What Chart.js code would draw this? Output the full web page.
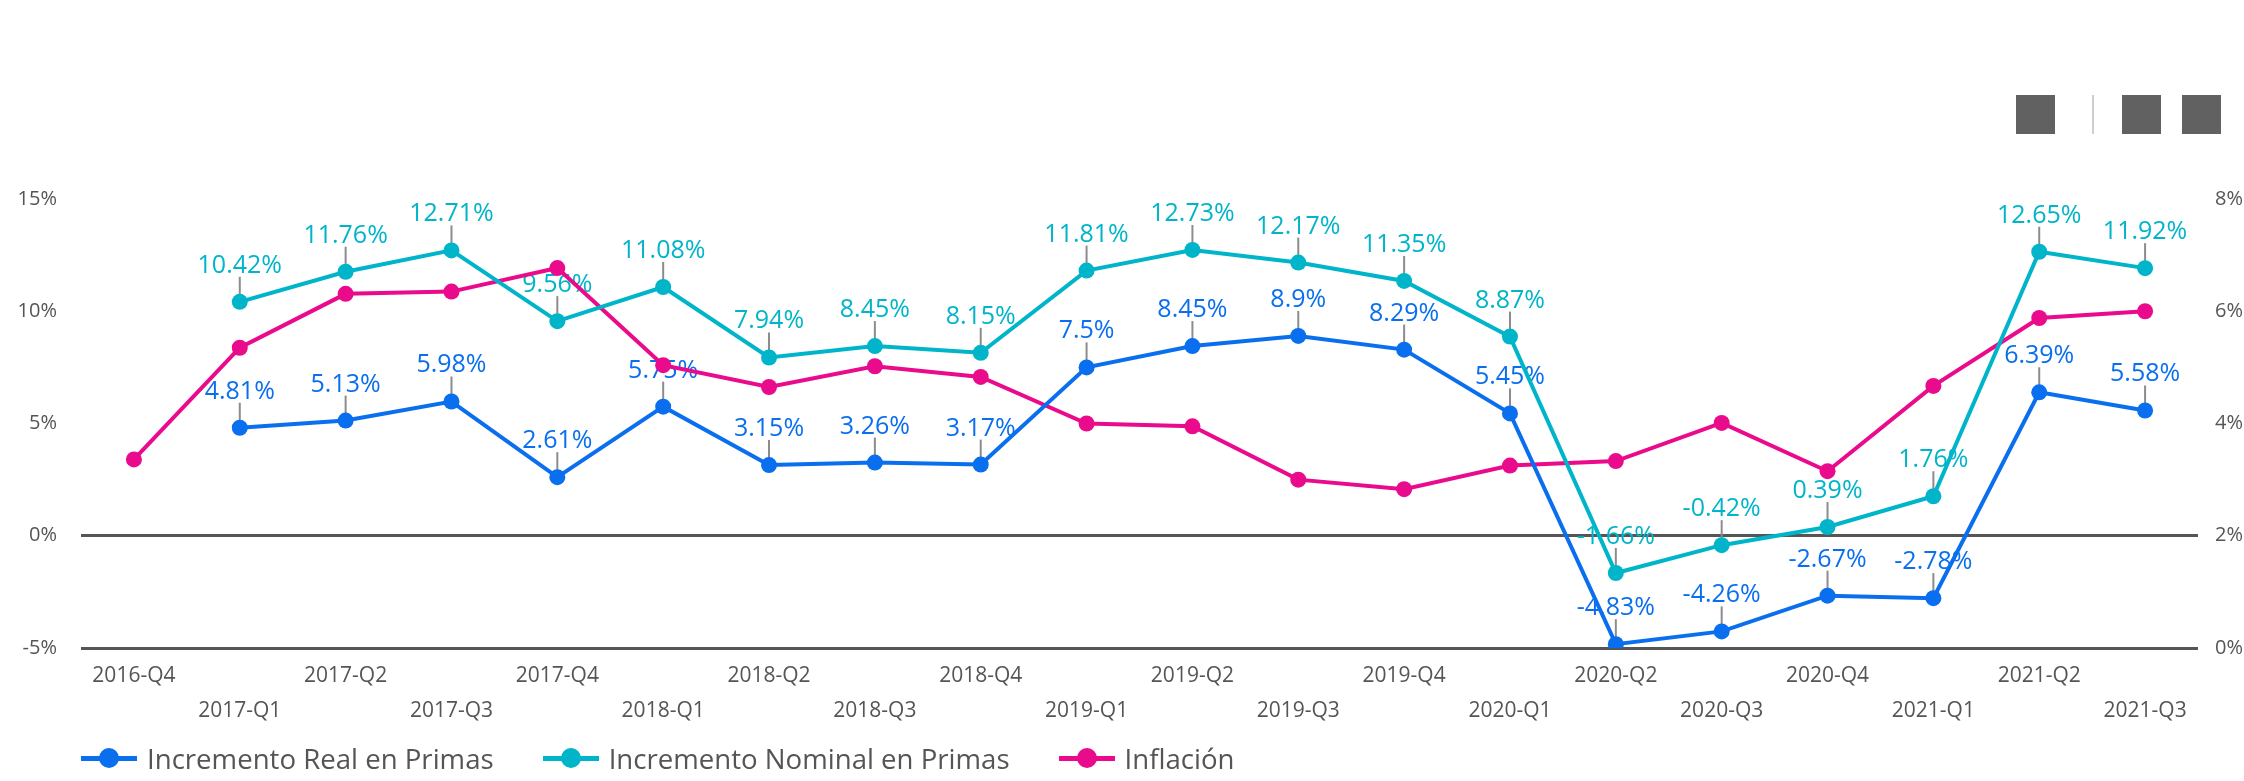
<!DOCTYPE html>
<html>
<head>
<meta charset="utf-8">
<script src="https://cdn.jsdelivr.net/npm/chart.js@4.4.0/dist/chart.umd.min.js"></script>
<style>
  html, body { margin: 0; padding: 0; background: #fff; }
  #wrap { position: relative; width: 2244px; height: 781px; overflow: hidden; }
  #chart { position: absolute; left: 0; top: 0; }
  .tool { position: absolute; top: 95px; width: 39px; height: 39px; background: #616161; }
  .sep { position: absolute; top: 95px; left: 2092px; width: 2px; height: 39px; background: #cfcfcf; }
  #legend { position: absolute; left: 81px; top: 738px; height: 40px; display: flex; align-items: center;
            font-family: 'Open Sans', sans-serif; font-size: 27.6px; color: #555555; }
  .item { display: flex; align-items: center; margin-right: 49px; }
  .mark { position: relative; width: 56px; height: 20px; margin-right: 10px; }
  .mark .ln { position: absolute; left: 0; right: 0; top: 8px; height: 5px; }
  .mark .dot { position: absolute; left: 18px; top: 0; width: 20px; height: 20px; border-radius: 50%; }
</style>
</head>
<body>
<div id="wrap">
  <canvas id="chart" width="2244" height="781"></canvas>
  <div class="tool" style="left:2016px"></div>
  <div class="sep"></div>
  <div class="tool" style="left:2122px"></div>
  <div class="tool" style="left:2182px"></div>
  <div id="legend"></div>
</div>
<script>
// Chart data
const categories = [
  '2016-Q4', '2017-Q1', '2017-Q2', '2017-Q3', '2017-Q4',
  '2018-Q1', '2018-Q2', '2018-Q3', '2018-Q4',
  '2019-Q1', '2019-Q2', '2019-Q3', '2019-Q4',
  '2020-Q1', '2020-Q2', '2020-Q3', '2020-Q4',
  '2021-Q1', '2021-Q2', '2021-Q3'
];
const realValues = [
  null, 4.81, 5.13, 5.98, 2.61,
  5.75, 3.15, 3.26, 3.17,
  7.5, 8.45, 8.9, 8.29,
  5.45, -4.83, -4.26, -2.67,
  -2.78, 6.39, 5.58
];
const nominalValues = [
  null, 10.42, 11.76, 12.71, 9.56,
  11.08, 7.94, 8.45, 8.15,
  11.81, 12.73, 12.17, 11.35,
  8.87, -1.66, -0.42, 0.39,
  1.76, 12.65, 11.92
];
const inflationValues = [
  3.36, 5.35, 6.31, 6.35, 6.77,
  5.04, 4.65, 5.02, 4.83,
  4.00, 3.95, 3.00, 2.83,
  3.25, 3.33, 4.01, 3.15,
  4.67, 5.88, 6.00
];
const leftTicks = [-5, 0, 5, 10, 15];
const rightTicks = [0, 2, 4, 6, 8];

const seriesNames = ['Incremento Real en Primas', 'Incremento Nominal en Primas', 'Inflación'];
const seriesColors = ['#0a6fee', '#00b5c9', '#ea0a8c'];

const FONT = "'Open Sans', sans-serif";
const TEXT_GRAY = '#555555';

// Labels with a small leader line above each point (first two series)
const pointLabels = {
  id: 'pointLabels',
  beforeDatasetsDraw(chart) {
    const ctx = chart.ctx;
    ctx.save();
    [0, 1].forEach(i => {
      const ds = chart.data.datasets[i];
      chart.getDatasetMeta(i).data.forEach((pt, j) => {
        const v = ds.data[j];
        if (v === null || v === undefined) return;
        ctx.strokeStyle = '#8c8c8c';
        ctx.lineWidth = 2;
        ctx.beginPath();
        ctx.moveTo(pt.x, pt.y);
        ctx.lineTo(pt.x, pt.y - 25);
        ctx.stroke();
        ctx.fillStyle = ds.borderColor;
        ctx.font = '25px ' + FONT;
        ctx.textAlign = 'center';
        ctx.textBaseline = 'alphabetic';
        ctx.fillText(v + '%', pt.x, pt.y - 29);
      });
    });
    ctx.restore();
  }
};

function makeDataset(label, data, color, axis) {
  return {
    label: label,
    data: data,
    yAxisID: axis,
    borderColor: color,
    backgroundColor: color,
    pointBackgroundColor: color,
    pointBorderColor: color,
    borderWidth: 4,
    pointRadius: 8,
    pointBorderWidth: 0,
    tension: 0,
    spanGaps: false
  };
}

const ctx = document.getElementById('chart').getContext('2d');
new Chart(ctx, {
  type: 'line',
  data: {
    labels: categories,
    datasets: [
      makeDataset(seriesNames[0], realValues, seriesColors[0], 'y'),
      makeDataset(seriesNames[1], nominalValues, seriesColors[1], 'y'),
      makeDataset(seriesNames[2], inflationValues, seriesColors[2], 'y1')
    ]
  },
  options: {
    responsive: false,
    animation: false,
    devicePixelRatio: 1,
    layout: { padding: { top: 199, left: 0, right: 0, bottom: 43 } },
    plugins: {
      legend: { display: false },
      tooltip: { enabled: false }
    },
    scales: {
      x: {
        offset: true,
        grid: { display: false },
        border: { display: false },
        ticks: {
          autoSkip: false,
          maxRotation: 0,
          padding: 3,
          color: TEXT_GRAY,
          font: { family: FONT, size: 21, lineHeight: 1.65 },
          callback: function(value, index) {
            const l = categories[index];
            return index % 2 ? ['', l] : l;
          }
        },
        afterFit: s => { s.height = 90; }
      },
      y: {
        position: 'left',
        min: leftTicks[0],
        max: leftTicks[leftTicks.length - 1],
        border: { display: false },
        grid: {
          drawTicks: false,
          lineWidth: 3,
          color: c => (c.tick && (c.tick.value === 0 || c.tick.value === -5)) ? '#555555' : 'rgba(0,0,0,0)'
        },
        ticks: {
          stepSize: 5,
          padding: 24,
          color: TEXT_GRAY,
          font: { family: FONT, size: 20 },
          callback: v => v + '%'
        },
        afterFit: s => { s.width = 81; }
      },
      y1: {
        position: 'right',
        min: rightTicks[0],
        max: rightTicks[rightTicks.length - 1],
        border: { display: false },
        grid: { display: false, drawOnChartArea: false },
        ticks: {
          stepSize: 2,
          padding: 9,
          color: TEXT_GRAY,
          font: { family: FONT, size: 20 },
          callback: v => v + '%'
        },
        afterFit: s => { s.width = 46; }
      }
    }
  },
  plugins: [pointLabels]
});

// Legend
const legend = document.getElementById('legend');
seriesNames.forEach((name, i) => {
  legend.innerHTML += `
    <div class="item">
      <div class="mark">
        <div class="ln" style="background:${seriesColors[i]}"></div>
        <div class="dot" style="background:${seriesColors[i]}"></div>
      </div>
      <span>${name}</span>
    </div>`;
});
</script>
</body>
</html>
